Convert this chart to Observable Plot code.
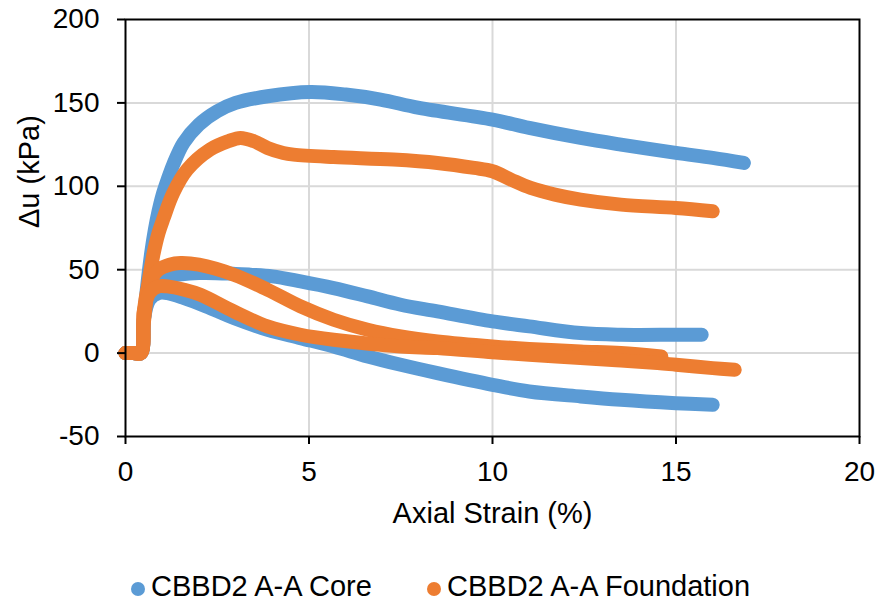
<!DOCTYPE html>
<html>
<head>
<meta charset="utf-8">
<script src="https://cdn.jsdelivr.net/npm/d3@7"></script>
<script src="https://cdn.jsdelivr.net/npm/@observablehq/plot@0.6"></script>
<style>
  html, body { margin: 0; padding: 0; background: #fff; }
  #wrap { position: relative; width: 881px; height: 605px; font-family: "Liberation Sans", Arial, sans-serif; }
  .legend-item { position: absolute; top: 572px; display: flex; align-items: center; font-size: 29px; line-height: 29px; color: #000; white-space: nowrap; }
  .dot { width: 14px; height: 14px; border-radius: 50%; margin-right: 6px; margin-top: 4px; }
</style>
</head>
<body>
<div id="wrap"></div>
<script>
// ---- Data ----
const seriesNames = ["CBBD2 A-A Core", "CBBD2 A-A Foundation"];
const seriesColors = ["#5B9BD5", "#ED7D31"];

const xTicks = [0, 5, 10, 15, 20];
const yTicks = [-50, 0, 50, 100, 150, 200];

// Core, test 1 (upper curve)
const core1Strain = [0, 0.2, 0.42, 0.5, 0.6, 0.7, 0.8, 0.9, 1.0, 1.15, 1.3, 1.58, 2.0, 2.5, 3.0, 3.87, 5.04, 6.0, 6.95, 8.0, 10.0, 11.0, 12.4, 13.5, 15.0, 16.0, 16.85];
const core1Du     = [0, 0,   0,    20,  42,  60,  74,  85,  94,  104,  113, 126,  137, 145, 150, 154,  156.5, 155, 152, 147, 140, 135, 129, 125, 120, 117, 114];
// Core, test 2 (middle curve)
const core2Strain = [0, 0.2, 0.42, 0.5, 0.6, 0.8, 1.2, 2.0, 3.0, 3.4, 4.0, 4.77, 5.67, 6.6, 7.5, 8.5, 10.0, 11.0, 12.4, 13.5, 15.0, 15.7];
const core2Du     = [0, 0,   0,    20,  35,  42,  46,  48,  47.5, 47, 46,  43,   39,   34,  29,  25,  19,   16,   12,   11,   11,   11];
// Core, test 3 (lower curve)
const core3Strain = [0, 0.2, 0.42, 0.5, 0.65, 0.9, 1.14, 1.6, 2.2, 2.95, 3.87, 4.77, 5.67, 6.6, 7.5, 8.5, 10.0, 11.0, 12.4, 13.5, 15.0, 16.0];
const core3Du     = [0, 0,   0,    20,  32,   36,  36,   33,  28,  21,   14,   9,    4,    -2,  -7,  -12, -19,  -23,  -26,  -28,  -30,  -31];

// Foundation, test 1 (upper curve)
const found1Strain = [0, 0.2, 0.42, 0.5, 0.6, 0.75, 0.9, 1.04, 1.3, 1.68, 2.3, 2.8, 3.13, 3.5, 3.87, 4.3, 4.58, 5.67, 7.3, 8.5, 9.5, 10.0, 10.5, 11.04, 11.7, 12.4, 13.5, 15.0, 16.0];
const found1Du     = [0, 0,   0,    18,  38,  58,   72,  81,   96,  110,  122, 127, 129,  127, 123,  120, 119,  117.5, 116, 114, 111, 109,  104,  99,    95,   92,   89,   87,   85];
// Foundation, test 2 (middle curve)
const found2Strain = [0, 0.2, 0.42, 0.5, 0.65, 0.9, 1.2, 1.5, 2.0, 2.95, 3.87, 4.77, 5.67, 6.6, 7.5, 8.5, 10.0, 11.0, 12.4, 13.5, 14.6];
const found2Du     = [0, 0,   0,    25,  42,   50,  53,  54,  53,  47,   38,   28,   20,   14,  10,  7,   4,    2.5,  1,    0,    -2];
// Foundation, test 3 (lower curve)
const found3Strain = [0, 0.2, 0.42, 0.5, 0.65, 0.9, 1.14, 1.6, 2.04, 2.95, 3.87, 4.77, 5.67, 7.5, 8.5, 10.0, 11.0, 12.4, 13.5, 14.5, 15.0, 16.0, 16.6];
const found3Du     = [0, 0,   0,    25,  36,   40,  40,   38,  35,   25,   16,   11,   8,    4,   3,   0.5,  -1,   -3,   -4.5, -6,   -7,   -9,   -10];

// ---- Build rows ----
function rows(series, test, xs, ys) {
  return xs.map((x, i) => ({series, test, strain: x, du: ys[i]}));
}
const coreRows = [
  ...rows(seriesNames[0], "1", core1Strain, core1Du),
  ...rows(seriesNames[0], "2", core2Strain, core2Du),
  ...rows(seriesNames[0], "3", core3Strain, core3Du)
];
const foundRows = [
  ...rows(seriesNames[1], "1", found1Strain, found1Du),
  ...rows(seriesNames[1], "2", found2Strain, found2Du),
  ...rows(seriesNames[1], "3", found3Strain, found3Du)
];

const lineOpts = {
  x: "strain", y: "du", z: "test", stroke: "series",
  strokeWidth: 14, strokeLinecap: "round", strokeLinejoin: "round",
  curve: "catmull-rom"
};

const chart = Plot.plot({
  width: 881,
  height: 540,
  marginLeft: 125,
  marginRight: 22,
  marginTop: 19,
  marginBottom: 104,
  style: {fontFamily: "'Liberation Sans', Arial, sans-serif", fontSize: "28px", color: "#000", background: "#fff"},
  x: {domain: [0, 20]},
  y: {domain: [-50, 200]},
  color: {domain: seriesNames, range: seriesColors},
  marks: [
    Plot.gridX(xTicks.filter(d => d > 0 && d < 20), {stroke: "#d9d9d9", strokeOpacity: 1, strokeWidth: 2}),
    Plot.gridY(yTicks.filter(d => d > -50 && d < 200), {stroke: "#d9d9d9", strokeOpacity: 1, strokeWidth: 2}),
    Plot.line(coreRows, lineOpts),
    Plot.line(foundRows, lineOpts),
    Plot.frame({stroke: "#000", strokeWidth: 2}),
    Plot.axisX(xTicks, {tickSize: 8, tickPadding: 17, strokeWidth: 2, stroke: "#000", label: null, fontSize: 28, tickFormat: d => String(d)}),
    Plot.axisY(yTicks, {tickSize: 8, tickPadding: 18, strokeWidth: 2, stroke: "#000", label: null, fontSize: 28, tickFormat: d => String(d)}),
    Plot.text(["Axial Strain (%)"], {frameAnchor: "bottom", dy: 66, lineAnchor: "top", fontSize: 29, fill: "#000"}),
    Plot.text(["Δu (kPa)"], {frameAnchor: "left", dx: -107, rotate: -90, lineAnchor: "top", fontSize: 29, fill: "#000"})
  ]
});

const wrap = document.getElementById("wrap");
wrap.appendChild(chart);

const legendLefts = [131, 427];
seriesNames.forEach((name, i) => {
  const item = document.createElement("div");
  item.className = "legend-item";
  item.style.left = legendLefts[i] + "px";
  const dot = document.createElement("span");
  dot.className = "dot";
  dot.style.background = seriesColors[i];
  const label = document.createElement("span");
  label.textContent = name;
  item.appendChild(dot);
  item.appendChild(label);
  wrap.appendChild(item);
});
</script>
</body>
</html>
